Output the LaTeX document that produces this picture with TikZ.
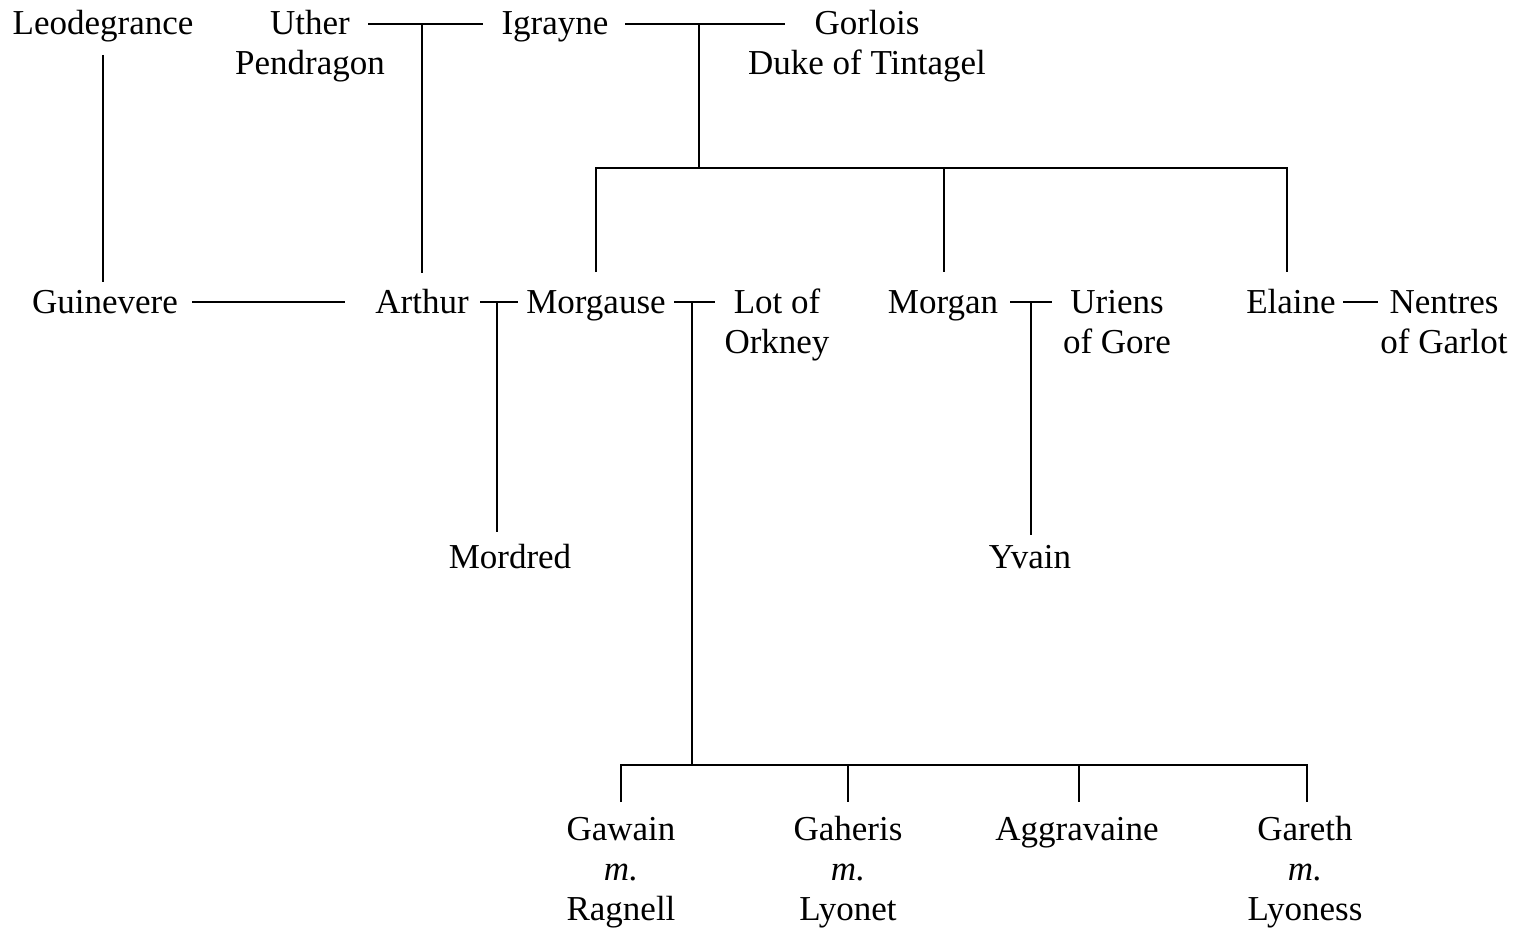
\documentclass[tikz,border=0pt]{standalone}
\usepackage{fontspec}
\setmainfont{Liberation Serif}
\begin{document}
\begin{tikzpicture}[x=0.5pt,y=-0.5pt,
  person/.style={anchor=base,align=center,inner sep=0pt,font=\fontsize{17.5}{20}\selectfont},
  link/.style={line width=1pt}]
\useasboundingbox (0,0) rectangle (1532,931);
% people (base anchor = baseline of the last line)
\node[person] (leo) at (103,35) {Leodegrance};
\node[person] (uther) at (310,75) {Uther\\Pendragon};
\node[person] (igrayne) at (555,35) {Igrayne};
\node[person] (gorlois) at (867,75) {Gorlois\\Duke of Tintagel};
\node[person] (guin) at (105,313) {Guinevere};
\node[person] (arthur) at (422,313) {Arthur};
\node[person] (morgause) at (596,313) {Morgause};
\node[person] (lot) at (777,353) {Lot of\\Orkney};
\node[person] (morgan) at (943,313) {Morgan};
\node[person] (uriens) at (1117,353) {Uriens\\of Gore};
\node[person] (elaine) at (1291,313) {Elaine};
\node[person] (nentres) at (1444,353) {Nentres\\of Garlot};
\node[person] (mordred) at (510,568) {Mordred};
\node[person] (yvain) at (1030,568) {Yvain};
\node[person] (gawain) at (621,920) {Gawain\\\textit{m.}\\Ragnell};
\node[person] (gaheris) at (848,920) {Gaheris\\\textit{m.}\\Lyonet};
\node[person] (aggra) at (1077,840) {Aggravaine};
\node[person] (gareth) at (1305,920) {Gareth\\\textit{m.}\\Lyoness};
% junction coordinates
\coordinate (utherR) at (368,24);
\coordinate (igrayneL) at (483,24);
\coordinate (ui) at (422,24);
\coordinate (arthurT) at (422,273);
\coordinate (igrayneR) at (625,24);
\coordinate (gorloisL) at (785,24);
\coordinate (ig) at (699,24);
\coordinate (igbar) at (699,168);
\coordinate (barL) at (596,168);
\coordinate (barM) at (944,168);
\coordinate (barR) at (1287,168);
\coordinate (morgauseT) at (596,272);
\coordinate (morganT) at (944,272);
\coordinate (elaineT) at (1287,272);
\coordinate (leoB) at (103,55);
\coordinate (guinT) at (103,282);
\coordinate (guinR) at (192,302);
\coordinate (arthurL) at (345,302);
\coordinate (arthurR) at (480,302);
\coordinate (morgauseL) at (518,302);
\coordinate (am) at (497,302);
\coordinate (mordredT) at (497,532);
\coordinate (morgauseR) at (674,302);
\coordinate (lotL) at (715,302);
\coordinate (ml) at (692,302);
\coordinate (mlbar) at (692,765);
\coordinate (morganR) at (1010,302);
\coordinate (uriensL) at (1052,302);
\coordinate (mu) at (1031,302);
\coordinate (yvainT) at (1031,535);
\coordinate (elaineR) at (1343,302);
\coordinate (nentresL) at (1378,302);
\coordinate (cbarL) at (621,765);
\coordinate (cbar2) at (848,765);
\coordinate (cbar3) at (1079,765);
\coordinate (cbarR) at (1307,765);
\coordinate (gawainT) at (621,802);
\coordinate (gaherisT) at (848,802);
\coordinate (aggraT) at (1079,802);
\coordinate (garethT) at (1307,802);
% connectors
\draw[link] (utherR) -- (igrayneL);
\draw[link] (ui) -- (arthurT);
\draw[link] (igrayneR) -- (gorloisL);
\draw[link] (ig) -- (igbar);
\draw[link] (morgauseT) -- (barL) -- (barR) -- (elaineT);
\draw[link] (barM) -- (morganT);
\draw[link] (leoB) -- (guinT);
\draw[link] (guinR) -- (arthurL);
\draw[link] (arthurR) -- (morgauseL);
\draw[link] (am) -- (mordredT);
\draw[link] (morgauseR) -- (lotL);
\draw[link] (ml) -- (mlbar);
\draw[link] (morganR) -- (uriensL);
\draw[link] (mu) -- (yvainT);
\draw[link] (elaineR) -- (nentresL);
\draw[link] (gawainT) -- (cbarL) -- (cbarR) -- (garethT);
\draw[link] (cbar2) -- (gaherisT);
\draw[link] (cbar3) -- (aggraT);
\end{tikzpicture}
\end{document}
